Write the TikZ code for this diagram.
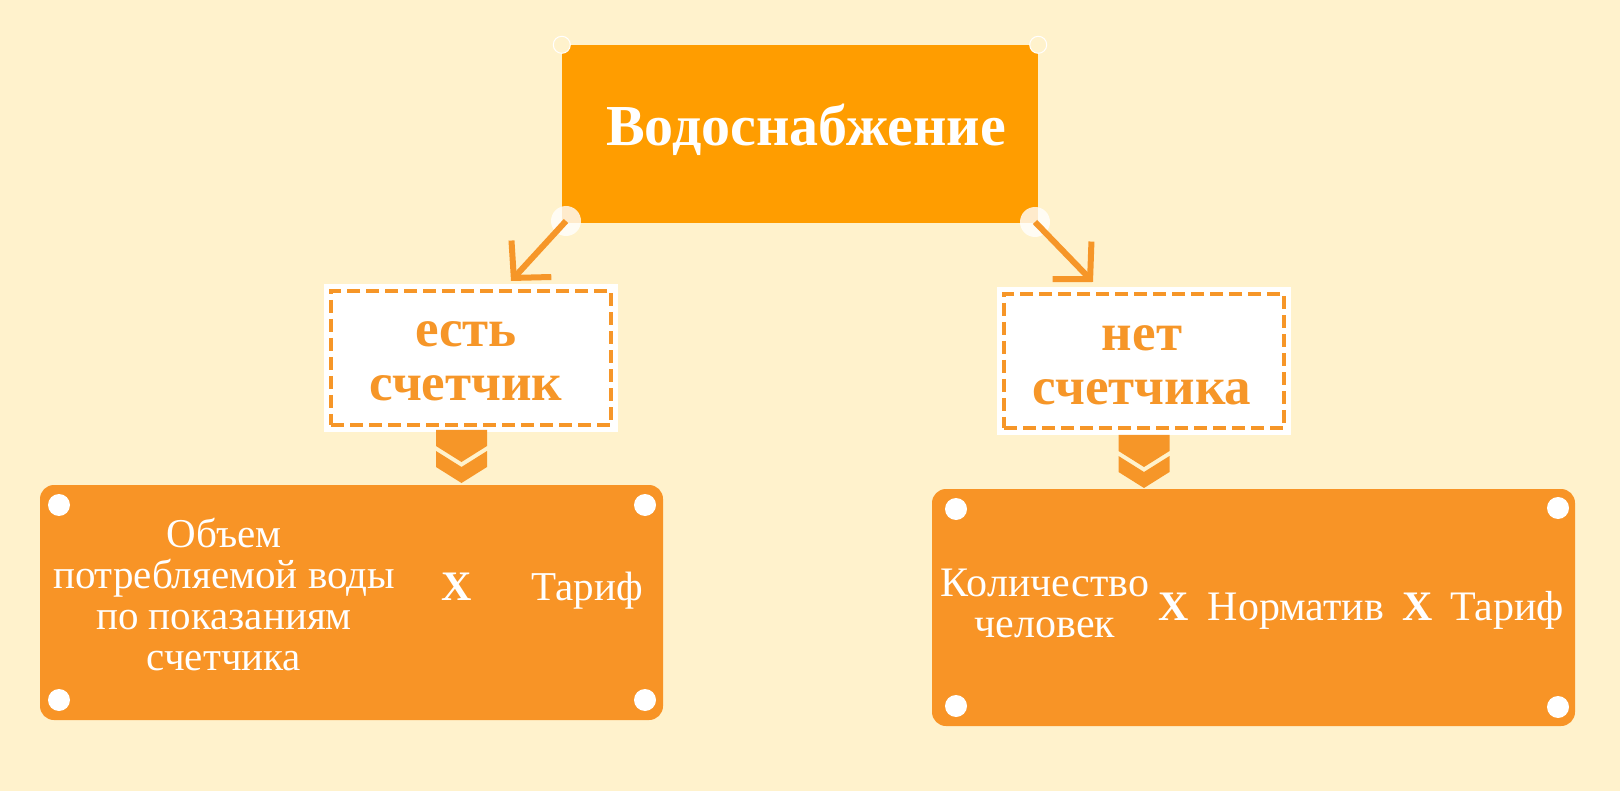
\documentclass[tikz,border=0pt]{standalone}
\usepackage{fontspec}
\setmainfont{Liberation Serif}
\usetikzlibrary{arrows.meta}
\definecolor{bg}{RGB}{255,242,204}
\definecolor{topor}{RGB}{255,157,0}
\definecolor{boxor}{RGB}{248,148,38}
\definecolor{lineor}{RGB}{246,150,40}
\begin{document}
\begin{tikzpicture}[x=1pt,y=-1pt,
  topbox/.style={rectangle, fill=topor, minimum width=476pt, minimum height=178pt, inner sep=0pt},
  cutcorner/.style={circle, fill=bg, draw=white, line width=1pt, minimum size=17pt, inner sep=0pt},
  joint/.style={circle, fill=white, fill opacity=0.8, minimum size=30pt, inner sep=0pt},
  notebox/.style={rectangle, fill=white, minimum width=294pt, minimum height=148pt, inner sep=0pt},
  dashbox/.style={rectangle, draw=lineor, line width=3.5pt, dash pattern=on 13pt off 6pt, minimum width=280pt, minimum height=134pt, inner sep=0pt},
  resbox/.style={rectangle, fill=boxor, rounded corners=14pt, inner sep=0pt},
  hole/.style={circle, fill=white, minimum size=22pt, inner sep=0pt},
  arr/.style={draw=lineor, line width=6pt, -{Straight Barb[length=26pt,width=54pt]}},
  chev/.style={fill=lineor},
  titletext/.style={text=white, font=\fontsize{58}{62}\selectfont\bfseries, inner sep=0pt},
  notetext/.style={text=lineor, align=center, font=\fontsize{53}{54}\selectfont\bfseries, inner sep=0pt},
  restext/.style={text=white, align=center, font=\fontsize{41}{41}\selectfont, inner sep=0pt},
  restextr/.style={text=white, align=center, font=\fontsize{42}{41}\selectfont, inner sep=0pt},
  times/.style={text=white, font=\fontsize{42}{44}\selectfont\bfseries, inner sep=0pt, anchor=base},
]
\useasboundingbox[fill=bg] (0,0) rectangle (1620,791);

% top box
\node[topbox] (top) at (800,134) {};
\node[cutcorner] (tl) at (top.north west) {};
\node[cutcorner] (tr) at (top.north east) {};
\node[joint] (jl) at (566,221) {};
\node[joint] (jr) at (1035,222) {};
\node[titletext] (title) at (806,130) {Водоснабжение};

% note boxes
\node[notebox] (lwhite) at (471,358) {};
\node[dashbox] (ldash) at (471,358) {};
\node[notetext] (ltext) at (466,361) {есть\\счетчик};

\node[notebox] (rwhite) at (1144,361) {};
\node[dashbox] (rdash) at (1144,361) {};
\node[notetext] (rtext) at (1142,365) {нет\\счетчика};

% arrows
\coordinate (tipL) at (511,281);
\coordinate (tipR) at (1093,282);
\draw[arr] (jl.center) -- (tipL);
\draw[arr] (jr.center) -- (tipR);

% chevrons
\fill[chev] (436,430) -- (487,430) -- (487,446) -- (461.5,462) -- (436,446) -- cycle;
\fill[chev] (436,451) -- (461.5,467) -- (487,451) -- (487,467) -- (461.5,483) -- (436,467) -- cycle;
\begin{scope}[shift={(682.5,5)}]
\fill[chev] (436,430) -- (487,430) -- (487,446) -- (461.5,462) -- (436,446) -- cycle;
\fill[chev] (436,451) -- (461.5,467) -- (487,451) -- (487,467) -- (461.5,483) -- (436,467) -- cycle;
\end{scope}

% result boxes
\node[resbox, minimum width=623pt, minimum height=235pt] (lres) at (351.5,602.5) {};
\node[hole] (l1) at (59,505) {};
\node[hole] (l2) at (645,505) {};
\node[hole] (l3) at (59,700) {};
\node[hole] (l4) at (645,700) {};
\node[restext] (lvol) at (224,595) {Объем\\потребляемой воды\\по показаниям\\счетчика};
\node[times] (lx) at (457,600) {X};
\node[restext, anchor=base] (ltar) at (587,600) {Тариф};

\node[resbox, minimum width=643pt, minimum height=237pt] (rres) at (1253.5,607.5) {};
\node[hole] (r1) at (956,509) {};
\node[hole] (r2) at (1558,508) {};
\node[hole] (r3) at (956,706) {};
\node[hole] (r4) at (1558,707) {};
\node[restextr] (rppl) at (1045,603) {Количество\\человек};
\node[times] (rx1) at (1174,620) {X};
\node[restextr, anchor=base] (rnorm) at (1296,620) {Норматив};
\node[times] (rx2) at (1418,620) {X};
\node[restextr, anchor=base] (rtar) at (1507,620) {Тариф};
\end{tikzpicture}
\end{document}
